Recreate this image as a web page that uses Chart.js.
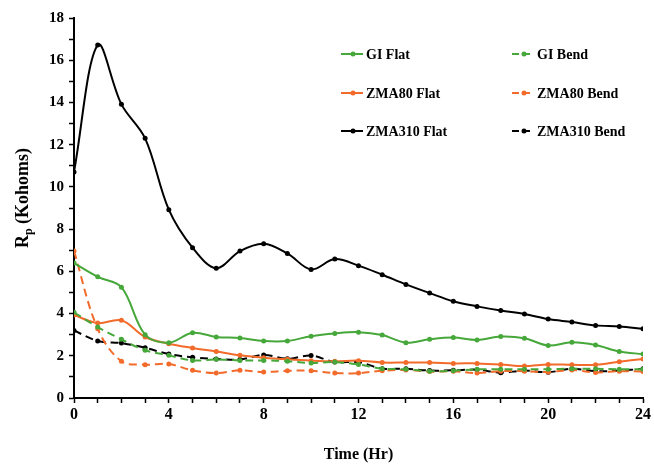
<!DOCTYPE html>
<html>
<head>
<meta charset="utf-8">
<script src="https://cdn.jsdelivr.net/npm/chart.js@4/dist/chart.umd.min.js"></script>
<style>
  html, body { margin: 0; background: #fff; }
  #contenedor { width: 654px; height: 465px; }
</style>
</head>
<body>
<div id="contenedor"><canvas id="rp-tiempo"></canvas></div>
<script>
const horas = [0, 1, 2, 3, 4, 5, 6, 7, 8, 9, 10, 11, 12, 13, 14, 15, 16, 17, 18, 19, 20, 21, 22, 23, 24];
const giFlat = [6.39, 5.74, 5.25, 3.0, 2.62, 3.09, 2.89, 2.84, 2.70, 2.70, 2.93, 3.06, 3.12, 2.98, 2.62, 2.78, 2.86, 2.75, 2.91, 2.83, 2.49, 2.64, 2.51, 2.20, 2.08];
const giBend = [4.06, 3.36, 2.78, 2.26, 2.02, 1.78, 1.83, 1.78, 1.78, 1.74, 1.66, 1.70, 1.59, 1.39, 1.36, 1.27, 1.29, 1.36, 1.36, 1.36, 1.36, 1.39, 1.38, 1.36, 1.36];
const zma80Flat = [3.93, 3.55, 3.68, 2.89, 2.57, 2.37, 2.20, 2.02, 1.91, 1.83, 1.77, 1.74, 1.77, 1.68, 1.68, 1.68, 1.64, 1.64, 1.59, 1.51, 1.59, 1.57, 1.57, 1.72, 1.85];
const zma80Bend = [6.96, 3.28, 1.74, 1.58, 1.61, 1.31, 1.18, 1.31, 1.23, 1.29, 1.29, 1.18, 1.18, 1.29, 1.33, 1.25, 1.27, 1.18, 1.27, 1.27, 1.23, 1.33, 1.21, 1.27, 1.25];
const zma310Flat = [10.71, 16.72, 13.91, 12.30, 8.92, 7.12, 6.15, 6.96, 7.31, 6.85, 6.09, 6.58, 6.27, 5.84, 5.38, 4.97, 4.58, 4.34, 4.14, 3.98, 3.74, 3.60, 3.44, 3.39, 3.28];
const zma310Bend = [3.20, 2.70, 2.60, 2.38, 2.08, 1.93, 1.85, 1.82, 2.04, 1.86, 2.01, 1.70, 1.70, 1.39, 1.39, 1.30, 1.31, 1.34, 1.20, 1.30, 1.22, 1.38, 1.27, 1.30, 1.38];
const nombresSeries = ['GI Flat', 'GI Bend', 'ZMA80 Flat', 'ZMA80 Bend', 'ZMA310 Flat', 'ZMA310 Bend'];

const verde = '#46a83a';
const naranja = '#f26b2a';
const negro = '#000000';
const guiones = [8, 5];

function serie(nombre, valores, color, discontinua) {
  return {
    label: nombre,
    data: horas.map((h, i) => ({ x: h, y: valores[i] })),
    borderColor: color,
    backgroundColor: color,
    borderWidth: 2,
    borderDash: discontinua ? guiones : [],
    pointRadius: 2.5,
    pointHoverRadius: 2.5,
    pointBorderWidth: 0,
    tension: 0.35
  };
}

const fuente = "'Liberation Serif', 'Times New Roman', serif";

// leyenda en dos columnas dentro del grafico
const leyendaRejilla = {
  id: 'leyendaRejilla',
  afterDraw(chart) {
    const ctx = chart.ctx;
    ctx.save();
    chart.data.datasets.forEach((ds, i) => {
      const x = i % 2 === 0 ? 341 : 512;
      const y = [54, 93, 131][Math.floor(i / 2)];
      ctx.strokeStyle = ds.borderColor;
      ctx.lineWidth = 2;
      ctx.setLineDash(ds.borderDash.length ? [7, 4] : []);
      ctx.beginPath();
      ctx.moveTo(x, y);
      ctx.lineTo(x + 22, y);
      ctx.stroke();
      ctx.setLineDash([]);
      ctx.fillStyle = ds.borderColor;
      ctx.beginPath();
      ctx.arc(x + 12, y, 2.5, 0, Math.PI * 2);
      ctx.fill();
      ctx.fillStyle = '#000';
      ctx.font = 'bold 14px ' + fuente;
      ctx.textBaseline = 'middle';
      ctx.fillText(ds.label, x + 25, y + 1);
    });
    ctx.restore();
  }
};

// titulos de ejes (R con subindice p)
const titulosEjes = {
  id: 'titulosEjes',
  afterDraw(chart) {
    const ctx = chart.ctx;
    const area = chart.chartArea;
    ctx.save();
    ctx.fillStyle = '#000';
    ctx.textBaseline = 'alphabetic';
    ctx.font = 'bold 16px ' + fuente;
    ctx.textAlign = 'center';
    ctx.fillText('Time (Hr)', (area.left + area.right) / 2, 459);

    ctx.translate(28, 198);
    ctx.rotate(-Math.PI / 2);
    ctx.textAlign = 'left';
    const fGrande = 'bold 18px ' + fuente;
    const fChica = 'bold 12px ' + fuente;
    ctx.font = fGrande;
    const wR = ctx.measureText('R').width;
    const wResto = ctx.measureText(' (Kohoms)').width;
    ctx.font = fChica;
    const wP = ctx.measureText('p').width;
    let x = -(wR + wP + wResto) / 2;
    ctx.font = fGrande;
    ctx.fillText('R', x, 0);
    x += wR;
    ctx.font = fChica;
    ctx.fillText('p', x, 4);
    x += wP;
    ctx.font = fGrande;
    ctx.fillText(' (Kohoms)', x, 0);
    ctx.restore();
  }
};

new Chart(document.getElementById('rp-tiempo'), {
  type: 'line',
  data: {
    datasets: [
      serie(nombresSeries[0], giFlat, verde, false),
      serie(nombresSeries[1], giBend, verde, true),
      serie(nombresSeries[2], zma80Flat, naranja, false),
      serie(nombresSeries[3], zma80Bend, naranja, true),
      serie(nombresSeries[4], zma310Flat, negro, false),
      serie(nombresSeries[5], zma310Bend, negro, true)
    ]
  },
  options: {
    responsive: true,
    maintainAspectRatio: false,
    animation: false,
    layout: { padding: { top: 18, right: 11, left: 0, bottom: 0 } },
    plugins: {
      legend: { display: false },
      tooltip: { enabled: false }
    },
    scales: {
      x: {
        type: 'linear',
        min: 0,
        max: 24,
        afterFit: (escala) => { escala.height = 67; },
        border: { color: '#000', width: 2 },
        grid: { drawOnChartArea: false, drawTicks: true, tickLength: 5, color: '#000', tickWidth: 1.5 },
        ticks: {
          stepSize: 1,
          autoSkip: false,
          maxRotation: 0,
          padding: 2,
          color: '#000',
          font: { family: fuente, size: 16, weight: 'bold' },
          callback: (v) => (v % 4 === 0 ? v : '')
        }
      },
      y: {
        min: 0,
        max: 18,
        afterFit: (escala) => { escala.width = 74; },
        border: { color: '#000', width: 2 },
        grid: { drawOnChartArea: false, drawTicks: true, tickLength: 5, color: '#000', tickWidth: 1.5 },
        ticks: {
          stepSize: 1,
          autoSkip: false,
          padding: 5,
          color: '#000',
          font: { family: fuente, size: 15, weight: 'bold' },
          callback: (v) => (v % 2 === 0 ? v : '')
        }
      }
    }
  },
  plugins: [leyendaRejilla, titulosEjes]
});
</script>
</body>
</html>
